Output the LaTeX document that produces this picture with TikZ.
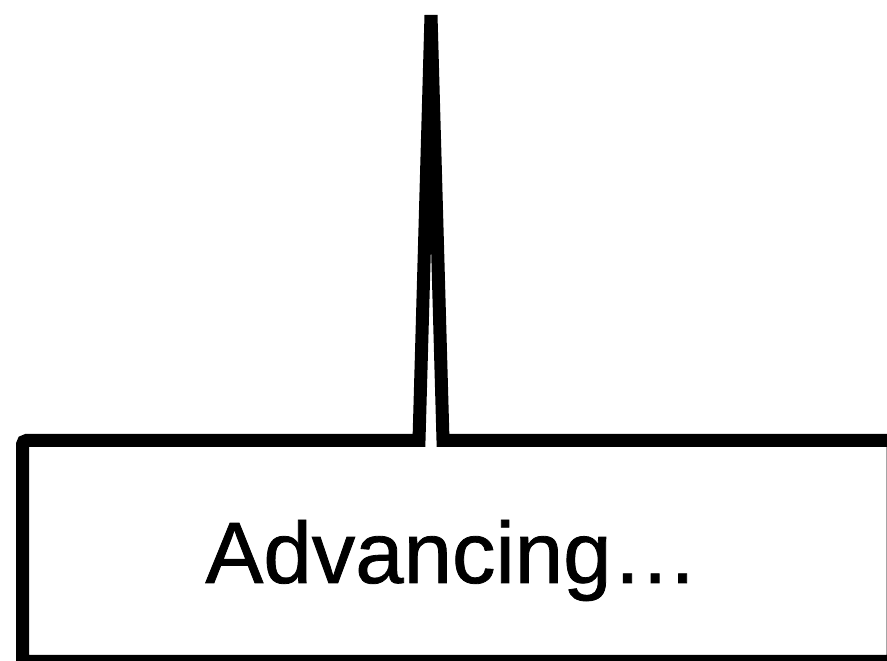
\documentclass[tikz,border=0pt]{standalone}
\usepackage{fontspec}
\setmainfont{Liberation Sans}
\newfontfamily\heavysans{Liberation Sans}[FakeBold=0.9]
\tikzset{
  callout/.style={draw=black, line width=13pt, miter limit=10, fill=white},
  lbl/.style={font=\heavysans\fontsize{87}{100}\selectfont, inner sep=0pt, anchor=base}
}
\begin{document}
\begin{tikzpicture}[x=1pt,y=1pt]
\useasboundingbox (0,0) rectangle (887,661);
\fill[white] (0,0) rectangle (887,661);
\draw[callout] (22.5,-0.5) -- (22.5,216.5) arc[start angle=180, end angle=90, radius=4]
  -- (419,220.5) -- (431,646) -- (443,220.5) -- (893,220.5) -- (893,-0.5) -- cycle;
\node[lbl] (label) at (452,78) {Advancing…};
\end{tikzpicture}
\end{document}
